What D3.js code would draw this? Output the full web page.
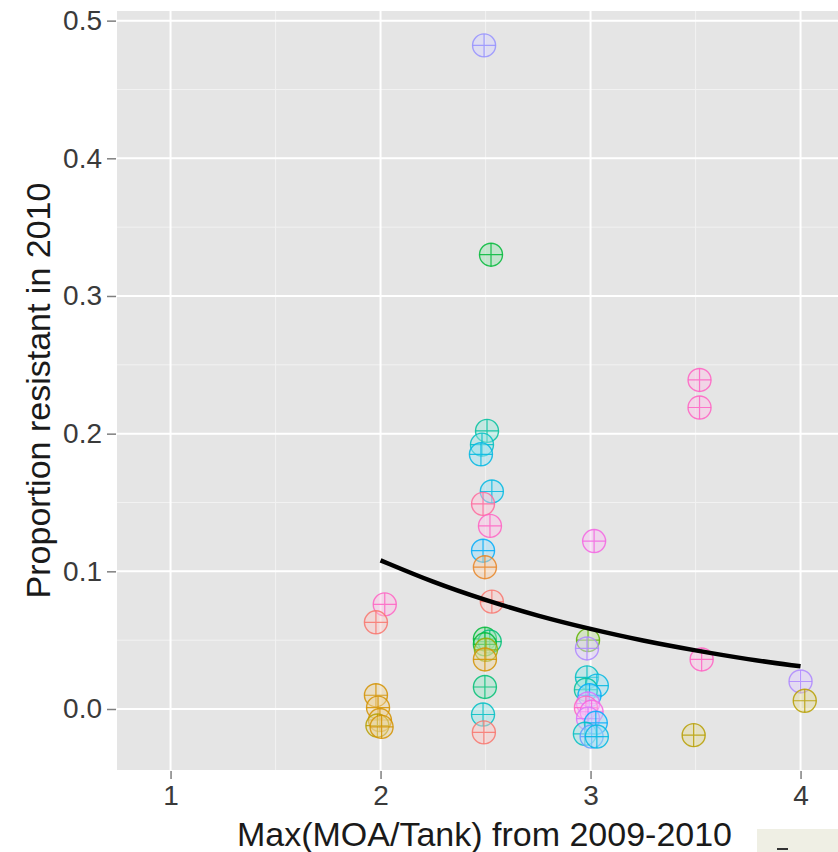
<!DOCTYPE html>
<html>
<head>
<meta charset="utf-8">
<script src="https://cdn.jsdelivr.net/npm/d3@7"></script>
<style>
  html, body { margin: 0; padding: 0; background: #ffffff; }
  svg { display: block; }
  text { font-family: "Liberation Sans", Arial, Helvetica, sans-serif; }
</style>
</head>
<body>
<div id="chart"></div>
<script>
// ---------------- data ----------------
const xTicks = [1, 2, 3, 4];
const yTicks = [0.0, 0.1, 0.2, 0.3, 0.4, 0.5];
const xMinor = [1.5, 2.5, 3.5];
const yMinor = [0.05, 0.15, 0.25, 0.35, 0.45];

const xTitle = "Max(MOA/Tank) from 2009-2010";
const yTitle = "Proportion resistant in 2010";

// tank palette (ggplot hue palette)
const palette = ["#F8766D", "#E88526", "#D39200", "#B79F00", "#93AA00", "#5EB300",
                 "#00BA38", "#00BF74", "#00C19F", "#00BFC4", "#00B9E3", "#00ADFA",
                 "#619CFF", "#AE87FF", "#DB72FB", "#F564E3", "#FF61C3", "#FF699C",
                 "#9590FF"];

// points: max MOA per tank (jittered), proportion resistant, tank group
const ptX = [
  2.02, 1.978, 1.978, 1.988, 1.997, 1.985, 2.005,
  2.493, 2.526, 2.507, 2.483, 2.478, 2.530, 2.488, 2.521, 2.488, 2.497, 2.530,
  2.497, 2.52, 2.497, 2.502, 2.497, 2.497, 2.488, 2.492,
  3.017, 2.988, 2.983, 2.983, 3.03, 2.978, 2.995, 2.988, 2.978, 3.005, 2.988, 3.025, 2.973, 3.005, 3.03,
  3.519, 3.519, 3.529, 3.491,
  4.0, 4.02
];
const ptY = [
  0.076, 0.063, 0.010, 0.001, -0.008, -0.012, -0.013,
  0.482, 0.330, 0.202, 0.192, 0.185, 0.158, 0.149, 0.133, 0.115, 0.103, 0.078,
  0.051, 0.049, 0.047, 0.043, 0.036, 0.016, -0.004, -0.017,
  0.122, 0.050, 0.044, 0.023, 0.017, 0.014, 0.010, 0.004, 0.001, -0.002, -0.007, -0.010, -0.018, -0.020, -0.020,
  0.239, 0.219, 0.036, -0.019,
  0.020, 0.006
];
const ptGroup = [
  16, 0, 2, 2, 2, 3, 2,
  18, 6, 8, 9, 10, 10, 17, 16, 11, 1, 0,
  6, 7, 6, 4, 2, 7, 9, 0,
  15, 5, 13, 9, 10, 8, 11, 14, 16, 15, 14, 11, 9, 12, 10,
  16, 16, 16, 3,
  13, 3
];

// fitted curve
const fitX = [2.0, 2.25, 2.5, 2.75, 3.0, 3.25, 3.5, 3.75, 4.0];
const fitY = [0.108, 0.092, 0.079, 0.0675, 0.058, 0.0495, 0.0425, 0.036, 0.031];

// ---------------- layout ----------------
const W = 838, H = 852;
const panel = { left: 117, top: 11, right: 852, bottom: 770 };

const svg = d3.select("#chart").append("svg")
  .attr("width", W).attr("height", H);

const x = d3.scaleLinear().domain([0.745, 4.245]).range([panel.left, panel.right]);
const y = d3.scaleLinear().domain([-0.0443, 0.507]).range([panel.bottom, panel.top]);

// panel background
svg.append("rect")
  .attr("x", panel.left).attr("y", panel.top)
  .attr("width", panel.right - panel.left).attr("height", panel.bottom - panel.top)
  .attr("fill", "#E5E5E5");

// minor grid
const grid = svg.append("g");
grid.selectAll(".vminor").data(xMinor).enter().append("line")
  .attr("x1", d => x(d)).attr("x2", d => x(d))
  .attr("y1", panel.top).attr("y2", panel.bottom)
  .attr("stroke", "#F2F2F2").attr("stroke-width", 1);
grid.selectAll(".hminor").data(yMinor).enter().append("line")
  .attr("y1", d => y(d)).attr("y2", d => y(d))
  .attr("x1", panel.left).attr("x2", panel.right)
  .attr("stroke", "#F2F2F2").attr("stroke-width", 1);
// major grid
grid.selectAll(".vmajor").data(xTicks).enter().append("line")
  .attr("x1", d => x(d)).attr("x2", d => x(d))
  .attr("y1", panel.top).attr("y2", panel.bottom)
  .attr("stroke", "#FFFFFF").attr("stroke-width", 2);
grid.selectAll(".hmajor").data(yTicks).enter().append("line")
  .attr("y1", d => y(d)).attr("y2", d => y(d))
  .attr("x1", panel.left).attr("x2", panel.right)
  .attr("stroke", "#FFFFFF").attr("stroke-width", 2);

// axes
const xAxis = d3.axisBottom(x).tickValues(xTicks).tickFormat(d3.format("d"))
  .tickSizeInner(8).tickSizeOuter(0).tickPadding(6);
const gx = svg.append("g").attr("transform", `translate(0,${panel.bottom + 1})`).call(xAxis);
gx.select(".domain").remove();
gx.selectAll(".tick line").attr("stroke", "#7F7F7F").attr("stroke-width", 1.5);
gx.selectAll(".tick text").attr("fill", "#3A3A3A").attr("font-size", "28px");

const yAxis = d3.axisLeft(y).tickValues(yTicks).tickFormat(d3.format(".1f"))
  .tickSizeInner(9).tickSizeOuter(0).tickPadding(5);
const gy = svg.append("g").attr("transform", `translate(${panel.left - 1},0)`).call(yAxis);
gy.select(".domain").remove();
gy.selectAll(".tick line").attr("stroke", "#7F7F7F").attr("stroke-width", 1.5);
gy.selectAll(".tick text").attr("fill", "#3A3A3A").attr("font-size", "28px");

// points (circle-plus)
const r = 11.5;
const lighten = c => d3.interpolateRgb(c, "#ffffff")(0.6);
const pts = svg.append("g").selectAll("g.pt")
  .data(ptX.map((d, i) => ({ x: d, y: ptY[i], g: ptGroup[i] })))
  .enter().append("g")
  .attr("transform", d => `translate(${x(d.x)},${y(d.y)})`);
pts.append("circle")
  .attr("r", r)
  .attr("fill", d => lighten(palette[d.g])).attr("fill-opacity", 0.45)
  .attr("stroke", d => palette[d.g]).attr("stroke-opacity", 0.85)
  .attr("stroke-width", 1.4);
pts.append("path")
  .attr("d", `M${-r},0H${r}M0,${-r}V${r}`)
  .attr("fill", "none")
  .attr("stroke", d => palette[d.g]).attr("stroke-opacity", 0.85)
  .attr("stroke-width", 1.2);

// fitted curve
const line = d3.line().x((d, i) => x(fitX[i])).y(d => y(d)).curve(d3.curveBasis);
svg.append("path")
  .datum(fitY)
  .attr("d", line)
  .attr("fill", "none")
  .attr("stroke", "#000000")
  .attr("stroke-width", 4.5);

// axis titles
svg.append("text")
  .attr("x", (panel.left + panel.right) / 2).attr("y", 846)
  .attr("text-anchor", "middle")
  .attr("font-size", "34px").attr("fill", "#1a1a1a")
  .text(xTitle);
svg.append("text")
  .attr("transform", `translate(50,${(panel.top + panel.bottom) / 2}) rotate(-90)`)
  .attr("text-anchor", "middle")
  .attr("font-size", "34px").attr("fill", "#1a1a1a")
  .text(yTitle);

// cut-off legend fragment at bottom right
svg.append("rect")
  .attr("x", 757).attr("y", 829).attr("width", 81).attr("height", 23)
  .attr("fill", "#EFEFE4");
svg.append("rect")
  .attr("x", 777).attr("y", 848).attr("width", 11).attr("height", 2)
  .attr("fill", "#333333");
</script>
</body>
</html>
